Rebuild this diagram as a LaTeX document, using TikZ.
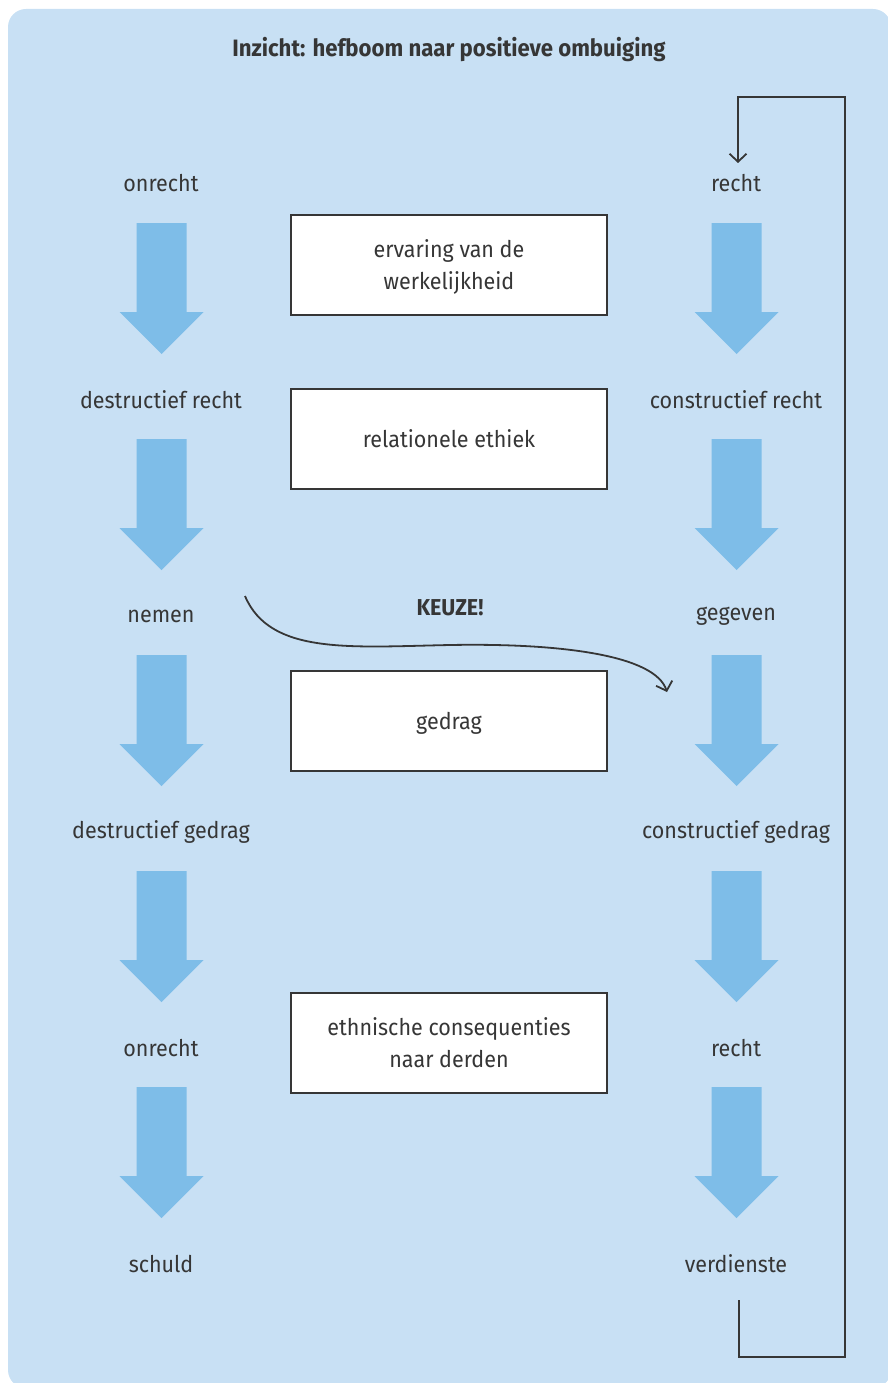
\documentclass[tikz,border=0pt]{standalone}
\usepackage{fontspec}
\setmainfont{Fira Sans}[FakeStretch=0.935]
\usetikzlibrary{arrows.meta}
\definecolor{panelblue}{HTML}{C8E0F4}
\definecolor{arrowblue}{HTML}{7EBDE8}
\definecolor{ink}{HTML}{363636}
\tikzset{
  lbl/.style={text=ink, font=\fontsize{23}{27}\selectfont, inner sep=0pt},
  titlelbl/.style={text=ink, font=\fontsize{23.7}{27}\selectfont\bfseries, inner sep=0pt},
  infobox/.style={draw=ink, line width=1.2pt, fill=white, minimum width=316pt, minimum height=100pt, align=center, text=ink, font=\fontsize{23}{32}\selectfont, inner sep=0pt, text depth=0pt},
  conn/.style={draw=ink, line width=1.8pt},
  barb/.style={-{Straight Barb[length=8pt,width=17pt,line width=1.8pt]}},
  bigarrow/.style={fill=arrowblue},
}
\begin{document}
\begin{tikzpicture}[x=1pt,y=-1pt]
\useasboundingbox (0,0) rectangle (888,1383);
\begin{scope}
\clip (0,0) rectangle (888,1383);
\fill[panelblue, rounded corners=18pt] (8,9) rectangle (891,1388);
\end{scope}
\node[titlelbl] (title) at (449,50) {Inzicht: hefboom naar positieve ombuiging};
% left column labels
\node[lbl] (l1) at (161,183) {onrecht};
\node[lbl] (l2) at (161,400) {destructief recht};
\node[lbl] (l3) at (161,616) {nemen};
\node[lbl] (l4) at (161,832) {destructief gedrag};
\node[lbl] (l5) at (161,1048) {onrecht};
\node[lbl] (l6) at (161,1264) {schuld};
% right column labels
\node[lbl] (r1) at (736,183) {recht};
\node[lbl] (r2) at (736,400) {constructief recht};
\node[lbl] (r3) at (736,616) {gegeven};
\node[lbl] (r4) at (736,832) {constructief gedrag};
\node[lbl] (r5) at (736,1048) {recht};
\node[lbl] (r6) at (736,1264) {verdienste};
% block arrows
\foreach \c in {161.5,736.5}{
  \foreach \t in {223,439,655,871,1087}{
    \fill[bigarrow] (\c-25,\t) -- (\c+25,\t) -- (\c+25,\t+89) -- (\c+42,\t+89) -- (\c,\t+131) -- (\c-42,\t+89) -- (\c-25,\t+89) -- cycle;
  }
}
% boxes
\node[infobox] (b1) at (449,265) {ervaring van de\\werkelijkheid};
\node[infobox] (b2) at (449,439) {relationele ethiek};
\node[infobox] (b3) at (449,721) {gedrag};
\node[infobox] (b4) at (449,1043) {ethnische consequenties\\naar derden};
% keuze
\node[lbl, font=\fontsize{23}{27}\selectfont\bfseries] (keuze) at (450,608) {KEUZE!};
\coordinate (cS) at (245,596);
\coordinate (cE) at (667,692);
\draw[conn, barb] (cS) .. controls (270,655) and (350,647) .. (450,645) .. controls (560,643) and (655,655) .. (cE);
% loop
\coordinate (loopS) at (739,1300);
\coordinate (loopB) at (739,1357);
\coordinate (loopC) at (845,1357);
\coordinate (loopD) at (845,97);
\coordinate (loopE) at (738,97);
\coordinate (loopT) at (738,163);
\draw[conn, barb] (loopS) -- (loopB) -- (loopC) -- (loopD) -- (loopE) -- (loopT);
\end{tikzpicture}
\end{document}
